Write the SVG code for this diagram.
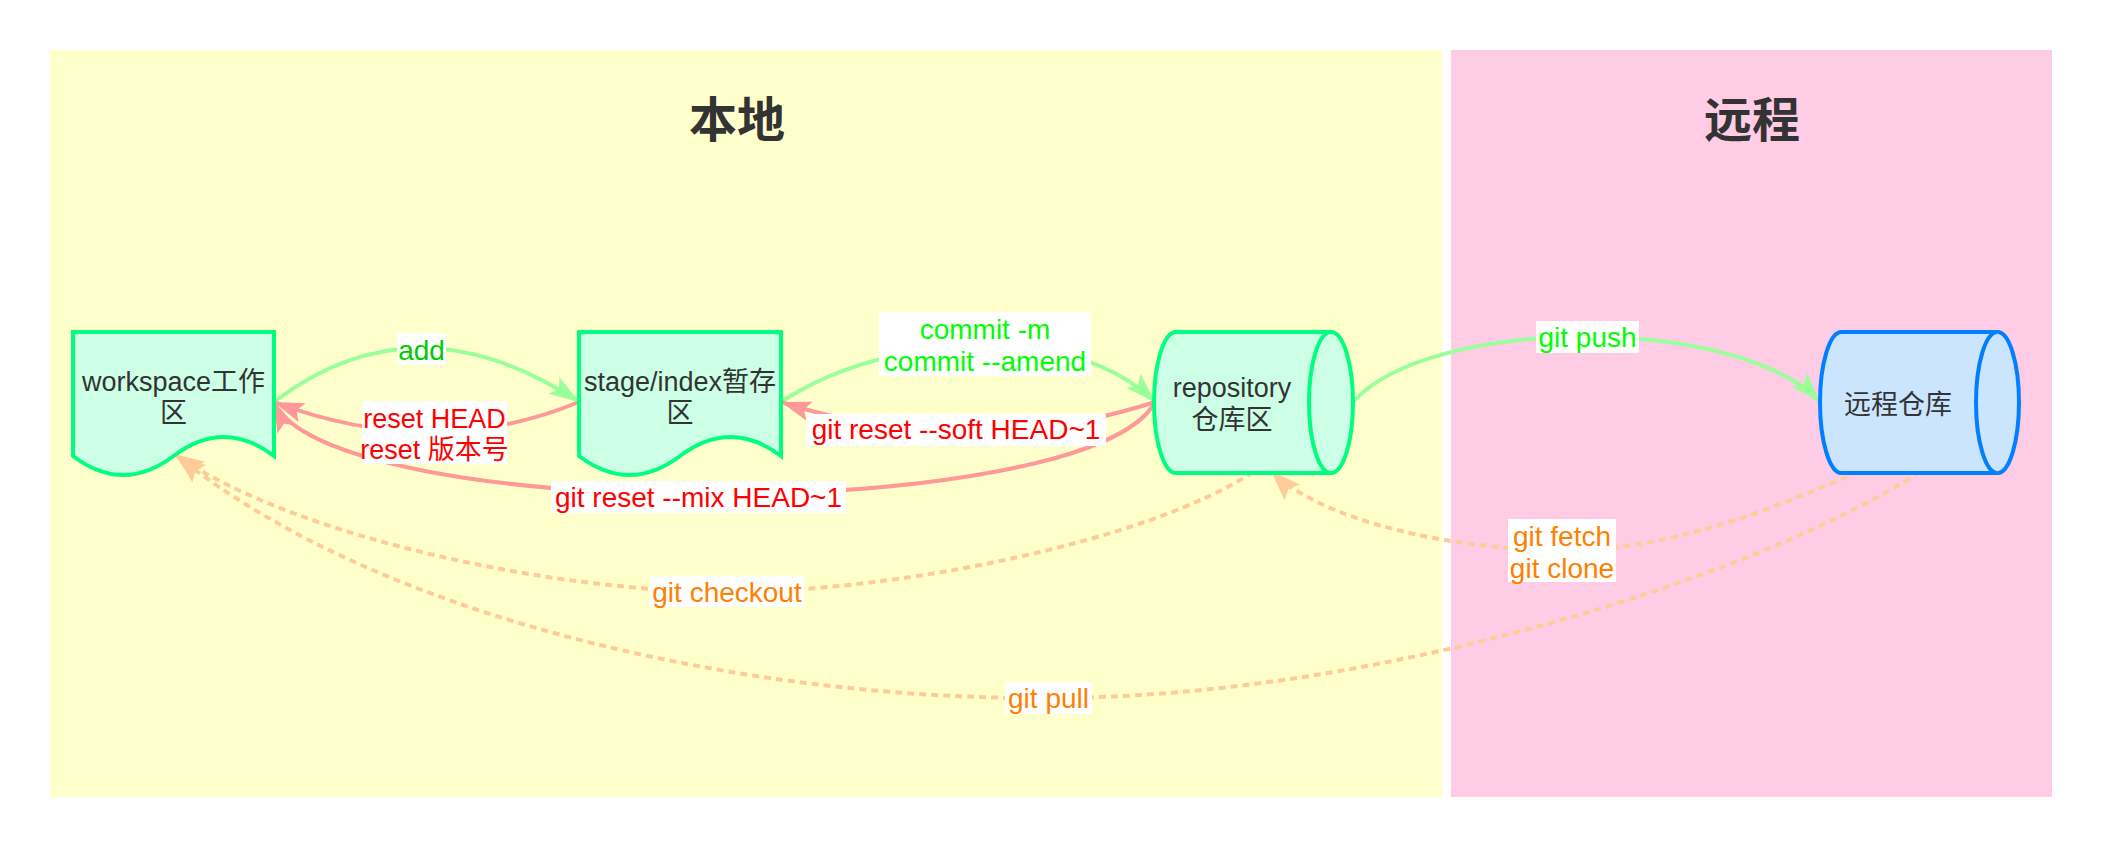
<svg xmlns="http://www.w3.org/2000/svg" width="2102" height="848" viewBox="0 0 2102 848">
<style>
.t{font-family:"Liberation Sans","Noto Sans CJK SC",sans-serif;font-size:27px;text-anchor:middle}
.l{font-family:"Liberation Sans","Noto Sans CJK SC",sans-serif;font-size:28px;text-anchor:middle}
.node{fill:#333333}
.title{font-family:"Noto Sans CJK SC","Liberation Sans",sans-serif;font-size:48px;font-weight:bold;fill:#333333;text-anchor:middle}
.doc{fill:#CCFFE6;stroke:#00FF80;stroke-width:4}
.cylg{fill:#CCFFE6;stroke:#00FF80;stroke-width:4}
.cylb{fill:#CCE5FF;stroke:#007FFF;stroke-width:4}
.eg{fill:none;stroke:#99FF99;stroke-width:4;marker-end:url(#mg)}
.er{fill:none;stroke:#FF9999;stroke-width:4;marker-end:url(#mr)}
.eo{fill:none;stroke:#FFCC99;stroke-width:4;stroke-dasharray:7 5;marker-end:url(#mo)}
.bg{fill:#FFFFFF}
.green{fill:#00FF00}
.dgreen{fill:#00CC00}
.red{fill:#FF0000}
.orange{fill:#FF8000}
</style>
<defs>
<marker id="mg" viewBox="-32 -12 34 24" refX="0" refY="0" markerWidth="34" markerHeight="24" orient="auto" markerUnits="userSpaceOnUse"><path d="M0,0 L-30,-10 L-24,0 L-30,10 Z" fill="#99FF99"/></marker>
<marker id="mr" viewBox="-32 -12 34 24" refX="0" refY="0" markerWidth="34" markerHeight="24" orient="auto" markerUnits="userSpaceOnUse"><path d="M0,0 L-30,-10 L-24,0 L-30,10 Z" fill="#FF9999"/></marker>
<marker id="mo" viewBox="-32 -12 34 24" refX="0" refY="0" markerWidth="34" markerHeight="24" orient="auto" markerUnits="userSpaceOnUse"><path d="M0,0 L-30,-11 L-25,0 L-30,11 Z" fill="#FFCC99"/></marker>
</defs>
<rect x="0" y="0" width="2102" height="848" fill="#FFFFFF"/>
<g id="local-area">
<rect x="50" y="50" width="1392" height="747" fill="#FFFFCC"/>
<text class="title" x="737" y="137">本地</text>
</g>
<g id="remote-area">
<rect x="1451" y="50" width="601" height="747" fill="#FFCCE6"/>
<text class="title" x="1752" y="137">远程</text>
</g>
<g id="connectors">
<path class="eg" d="M274,402 Q415.5,294 579,402"/>
<path class="er" d="M579,402 Q433.5,462 274,402"/>
<path class="eg" d="M781,402 Q860,350 985,344 Q1100,348 1155,402"/>
<path class="er" d="M1155,402 Q968,462 781,402"/>
<path class="er" d="M1155,402 C1090,525 330,525 274,402"/>
<path class="eg" d="M1353,402 C1430,315 1740,315 1820,402"/>
<path class="eo" d="M1253,472 C1150,540 900,592 727,592 C560,592 300,540 174,454"/>
<path class="eo" d="M1858,472 C1780,505 1680,550 1562,550 C1450,550 1320,520 1271,471"/>
<path class="eo" d="M1920,472 C1760,575 1380,698 1048,698 C750,700 380,620 176,455"/>
<g id="label-add"><rect class="bg" x="397" y="333" width="49" height="32"/><text class="l dgreen" x="421.5" y="360">add</text></g>
<g id="label-reset"><rect class="bg" x="362" y="401" width="145" height="63"/><text class="l red" style="font-size:27px" x="434.5" y="428">reset HEAD<tspan x="434.5" dy="31">reset 版本号</tspan></text></g>
<g id="label-commit"><rect class="bg" x="879" y="312" width="212" height="64"/><text class="l green" x="985" y="339">commit -m<tspan x="985" dy="32">commit --amend</tspan></text></g>
<g id="label-soft"><rect class="bg" x="806" y="414" width="300" height="32"/><text class="l red" x="956" y="439">git reset --soft HEAD~1</text></g>
<g id="label-mix"><rect class="bg" x="551" y="481" width="295" height="32"/><text class="l red" x="698.5" y="507">git reset --mix HEAD~1</text></g>
<g id="label-checkout"><rect class="bg" x="650" y="576" width="154" height="31"/><text class="l orange" x="727" y="602">git checkout</text></g>
<g id="label-fetch"><rect class="bg" x="1508" y="519" width="108" height="63"/><text class="l orange" x="1562" y="546">git fetch<tspan x="1562" dy="32">git clone</tspan></text></g>
<g id="label-pull"><rect class="bg" x="1005" y="682" width="87" height="32"/><text class="l orange" x="1048.5" y="708">git pull</text></g>
<g id="label-push"><rect class="bg" x="1536" y="321" width="103" height="32"/><text class="l green" x="1587.5" y="347">git push</text></g>
</g>
<g id="workspace">
<path class="doc" d="M73,332 H274 V456 Q223.75,418 173.5,456 Q123.25,494 73,456 Z"/>
<text class="t node" x="173.5" y="391">workspace工作<tspan x="173.5" dy="31">区</tspan></text>
</g>
<g id="stage">
<path class="doc" d="M579,332 H781 V456 Q730.5,418 680,456 Q629.5,494 579,456 Z"/>
<text class="t node" x="680" y="391">stage/index暂存<tspan x="680" dy="31">区</tspan></text>
</g>
<g id="repository">
<path class="cylg" d="M1176,332 L1331,332 A22,70.5 0 0 1 1331,473 L1176,473 A22,70.5 0 0 1 1176,332 Z"/>
<path class="cylg" d="M1331,332 A22,70.5 0 0 0 1331,473" fill="none"/>
<text class="t node" x="1232" y="397">repository<tspan x="1232" dy="32">仓库区</tspan></text>
</g>
<g id="remote">
<path class="cylb" d="M1841.5,332 L1997.5,332 A21.5,70.5 0 0 1 1997.5,473 L1841.5,473 A21.5,70.5 0 0 1 1841.5,332 Z"/>
<path class="cylb" d="M1997.5,332 A21.5,70.5 0 0 0 1997.5,473" fill="none"/>
<text class="t node" x="1898" y="414">远程仓库</text>
</g>
</svg>
